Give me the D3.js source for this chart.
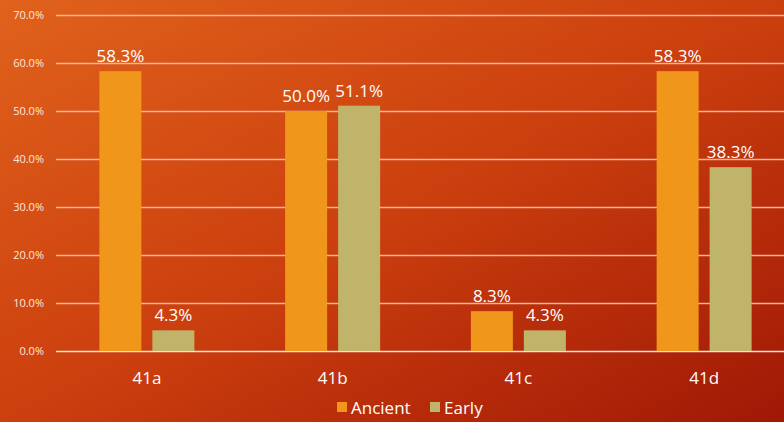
<!DOCTYPE html>
<html><head><meta charset="utf-8">
<script src="https://cdn.jsdelivr.net/npm/d3@7/dist/d3.min.js"></script>
<style>html,body{margin:0;padding:0;overflow:hidden;}svg{display:block;font-family:"Open Sans","DejaVu Sans",sans-serif;}</style>
</head><body>
<svg id="c" width="784" height="422"></svg>
<script>
const categories = ["41a","41b","41c","41d"];
const seriesNames = ["Ancient","Early"];
const ancient = [58.3, 50.0, 8.3, 58.3];
const early = [4.3, 51.1, 4.3, 38.3];
const yTicks = [0,10,20,30,40,50,60,70];
const colors = ["#f0961a","#c0b46a"];

(function(){
const W=784,H=422;
const svg=d3.select("#c");
const defs=svg.append("defs");
const g1=defs.append("linearGradient").attr("id","bg").attr("x1","0").attr("y1","0").attr("x2","1").attr("y2","1");
g1.append("stop").attr("offset","0%").attr("stop-color","#e0621c");
g1.append("stop").attr("offset","50%").attr("stop-color","#cc3f0e");
g1.append("stop").attr("offset","100%").attr("stop-color","#a01806");
svg.append("rect").attr("width",W).attr("height",H).attr("fill","url(#bg)");

const pl=54, pr=797, pt=15, pb=351;
const x=d3.scaleBand().domain(categories).range([pl,pr]).paddingInner(0).paddingOuter(0);
const y=d3.scaleLinear().domain([0,70]).range([pb,pt]);

svg.append("g").selectAll("line").data(yTicks).join("line")
 .attr("x1",pl+2).attr("x2",W).attr("y1",d=>y(d)+0.5).attr("y2",d=>y(d)+0.5)
 .attr("stroke",d=>d===0?"#f8e0d2":"#f0b898").attr("stroke-width",d=>d===0?1.5:1.3);

svg.append("g").selectAll("text").data(yTicks).join("text")
 .attr("x",44).attr("y",d=>y(d)+4).attr("text-anchor","end")
 .attr("fill","#fbe8dc").attr("font-size","11px").text(d=>d.toFixed(1)+"%");

const data=categories.map((c,i)=>({c,vals:[ancient[i],early[i]]}));
const barW=42, gap=11;
const grp=svg.append("g").selectAll("g").data(data).join("g")
 .attr("transform",d=>`translate(${x(d.c)+x.bandwidth()/2},0)`);
grp.selectAll("rect").data(d=>d.vals.map((v,k)=>({v,k}))).join("rect")
 .attr("x",d=>d.k===0?-(barW+gap/2):gap/2).attr("width",barW)
 .attr("y",d=>y(d.v)).attr("height",d=>pb-y(d.v))
 .attr("fill",d=>colors[d.k]);
grp.selectAll("text.v").data(d=>d.vals.map((v,k)=>({v,k}))).join("text").attr("class","v")
 .attr("x",d=>d.k===0?-(barW/2+gap/2):(barW/2+gap/2))
 .attr("y",d=>y(d.v)-9).attr("text-anchor","middle")
 .attr("fill","#ffffff").attr("font-size","17px").text(d=>d.v.toFixed(1)+"%");
grp.append("text").attr("x",0).attr("y",384).attr("text-anchor","middle")
 .attr("fill","#ffffff").attr("font-size","17px").text(d=>d.c);

const lg=svg.append("g");
const items=[{n:"Ancient",x:337},{n:"Early",x:430}];
items.forEach((it,i)=>{
 lg.append("rect").attr("x",it.x).attr("y",402).attr("width",10).attr("height",10).attr("fill",colors[i]);
 lg.append("text").attr("x",it.x+14).attr("y",414).attr("fill","#fff").attr("font-size","17px").text(seriesNames[i]);
});
})();
</script>
</body></html>
